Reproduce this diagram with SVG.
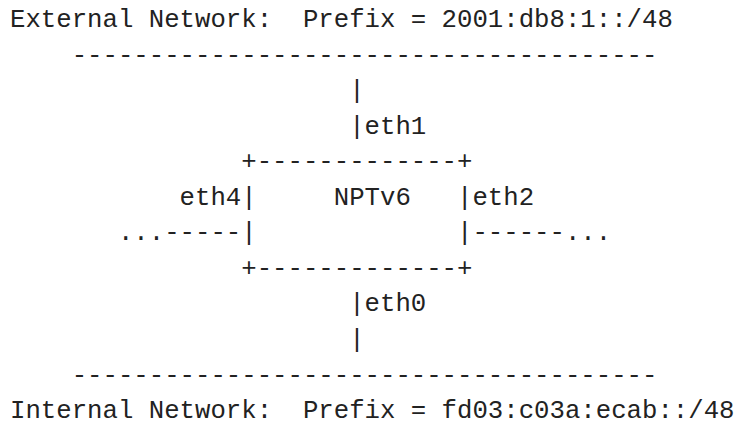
<svg xmlns="http://www.w3.org/2000/svg" width="746" height="425" viewBox="0 0 746 425">
<style>
text{font-family:"Liberation Mono","DejaVu Sans Mono",monospace;font-size:25.7px;fill:#222;white-space:pre}
</style>
<rect width="746" height="425" fill="#fff"/>
<g id="external"><text x="10" y="27" xml:space="preserve">External Network:  Prefix = 2001:db8:1::/48</text>
<text x="10" y="62.5" xml:space="preserve">    --------------------------------------</text></g>
<g id="connectors">
<text x="10" y="98.1" xml:space="preserve">                      |</text>
<text x="10" y="133.6" xml:space="preserve">                      |eth1</text>
<text x="10" y="311.4" xml:space="preserve">                      |eth0</text>
<text x="10" y="346.9" xml:space="preserve">                      |</text>
</g>
<g id="nptv6">
<text x="10" y="169.2" xml:space="preserve">               +-------------+</text>
<text x="10" y="204.7" xml:space="preserve">           eth4|     NPTv6   |eth2</text>
<text x="10" y="240.3" xml:space="preserve">       ...-----|             |------...</text>
<text x="10" y="275.8" xml:space="preserve">               +-------------+</text>
</g>
<g id="internal"><text x="10" y="382.5" xml:space="preserve">    --------------------------------------</text>
<text x="10" y="418" xml:space="preserve">Internal Network:  Prefix = fd03:c03a:ecab::/48</text></g>
</svg>
